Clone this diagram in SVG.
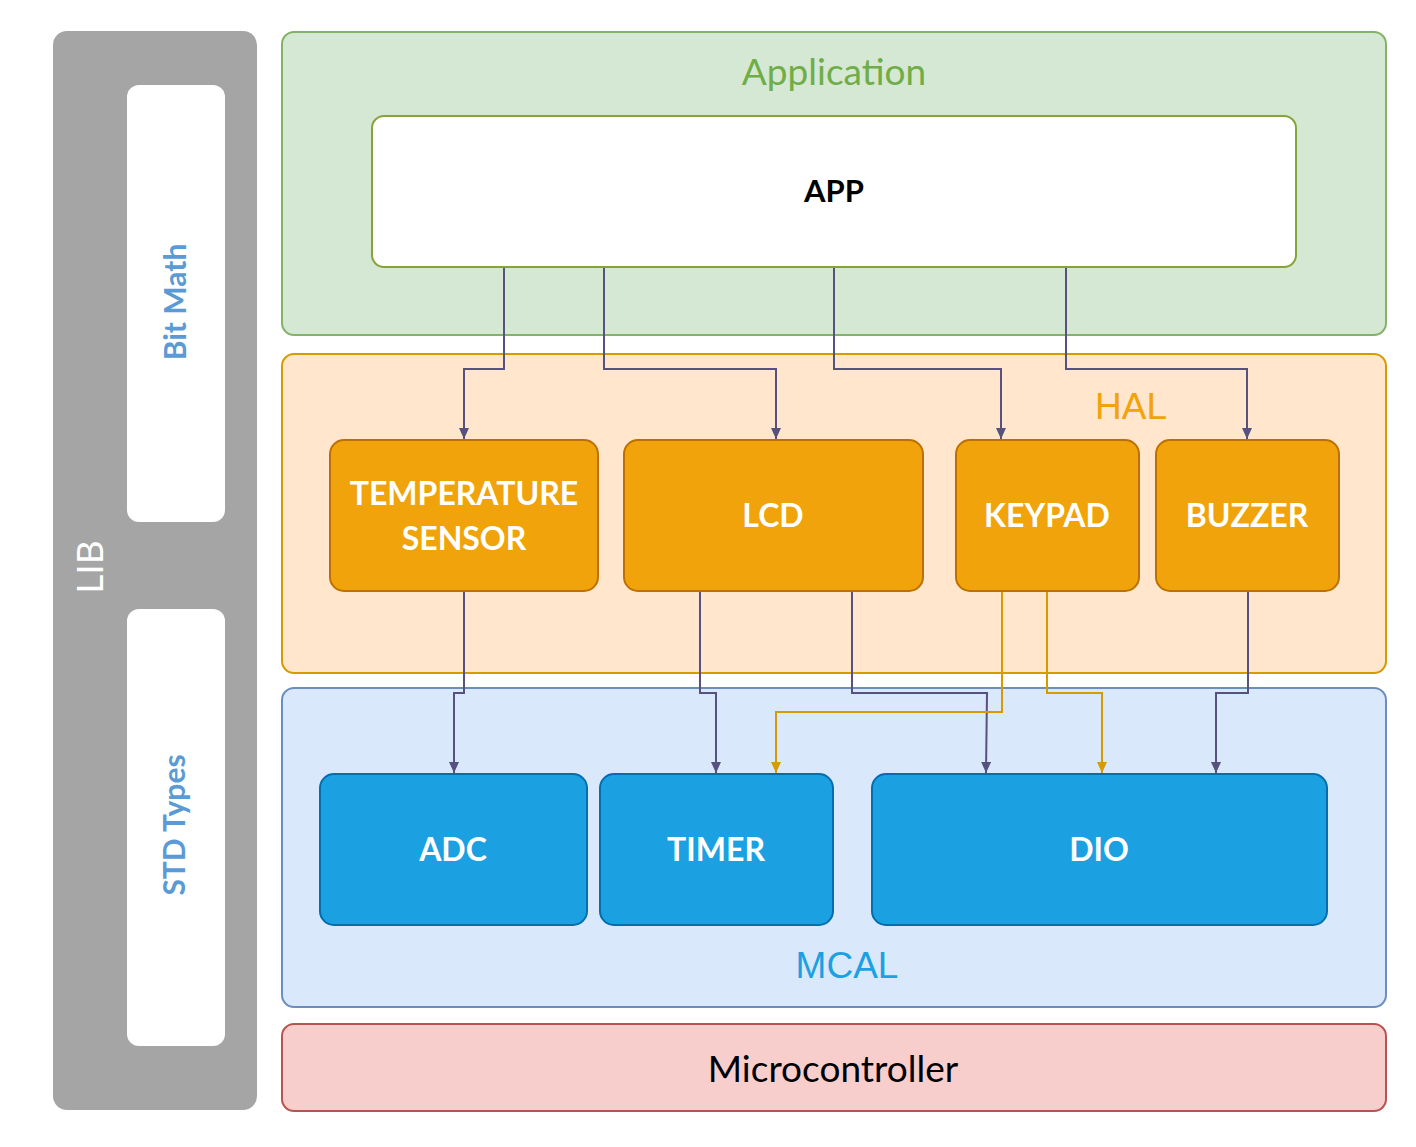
<svg xmlns="http://www.w3.org/2000/svg" width="1416" height="1147" viewBox="0 0 1416 1147">
  <style>
    .lbl { font-family: Lato, "Open Sans", "Liberation Sans", sans-serif; }
    .node-txt { font-family: Lato, "Open Sans", "Liberation Sans", sans-serif; font-weight: bold; font-size: 32px; fill: #ffffff; text-anchor: middle; }
    .hal { fill: #f0a30a; stroke: #bd7000; stroke-width: 2; }
    .mcal { fill: #1ba1e2; stroke: #006eaf; stroke-width: 2; }
    .conn { fill: none; stroke: #56517e; stroke-width: 2; }
    .conn-o { fill: none; stroke: #d79b00; stroke-width: 2; }
  </style>
  <defs>
    <marker id="ap" markerWidth="11" markerHeight="10" refX="11" refY="5" orient="auto" markerUnits="userSpaceOnUse">
      <path d="M0,0 L11,5 L0,10 z" fill="#56517e"/>
    </marker>
    <marker id="ao" markerWidth="11" markerHeight="10" refX="11" refY="5" orient="auto" markerUnits="userSpaceOnUse">
      <path d="M0,0 L11,5 L0,10 z" fill="#d79b00"/>
    </marker>
  </defs>
  <rect width="1416" height="1147" fill="#ffffff"/>

  <g id="lib">
    <rect x="53" y="31" width="204" height="1079" rx="14" fill="#a5a5a5"/>
    <text class="lbl" x="0" y="0" transform="translate(103,567) rotate(-90)" font-size="37" fill="#ffffff" text-anchor="middle">LIB</text>
  </g>
  <g id="bitmath">
    <rect x="127" y="85" width="98" height="437" rx="12" fill="#ffffff"/>
    <text class="lbl" x="0" y="0" transform="translate(186,302) rotate(-90)" font-size="30" font-weight="bold" fill="#5b9bd5" text-anchor="middle">Bit Math</text>
  </g>
  <g id="stdtypes">
    <rect x="127" y="609" width="98" height="437" rx="12" fill="#ffffff"/>
    <text class="lbl" x="0" y="0" transform="translate(185,825) rotate(-90)" font-size="30" font-weight="bold" fill="#5b9bd5" text-anchor="middle">STD Types</text>
  </g>

  <g id="application">
    <rect x="282" y="32" width="1104" height="303" rx="12" fill="#d5e8d4" stroke="#82b366" stroke-width="2"/>
    <text class="lbl" x="834" y="85" font-size="37" fill="#70ad47" text-anchor="middle">Application</text>
  </g>
  <g id="app">
    <rect x="372" y="116" width="924" height="151" rx="12" fill="#ffffff" stroke="#86a33a" stroke-width="2"/>
    <text class="lbl" x="834" y="202" font-size="31" font-weight="bold" fill="#000000" text-anchor="middle">APP</text>
  </g>

  <g id="hal">
    <rect x="282" y="354" width="1104" height="319" rx="12" fill="#ffe6cc" stroke="#d79b00" stroke-width="2"/>
    <text x="1131" y="419" font-family="'Liberation Sans', Arial, sans-serif" font-size="37" fill="#f0a30a" text-anchor="middle">HAL</text>
  </g>
  <g id="temperature-sensor">
    <rect class="hal" x="330" y="440" width="268" height="151" rx="14"/>
    <text class="node-txt" x="464" y="505">TEMPERATURE</text>
    <text class="node-txt" x="464" y="550">SENSOR</text>
  </g>
  <g id="lcd">
    <rect class="hal" x="624" y="440" width="299" height="151" rx="14"/>
    <text class="node-txt" x="773" y="527">LCD</text>
  </g>
  <g id="keypad">
    <rect class="hal" x="956" y="440" width="183" height="151" rx="14"/>
    <text class="node-txt" x="1047" y="527">KEYPAD</text>
  </g>
  <g id="buzzer">
    <rect class="hal" x="1156" y="440" width="183" height="151" rx="14"/>
    <text class="node-txt" x="1247" y="527">BUZZER</text>
  </g>

  <g id="mcal">
    <rect x="282" y="688" width="1104" height="319" rx="12" fill="#dae8fc" stroke="#6c8ebf" stroke-width="2"/>
    <text x="847" y="978" font-family="'Liberation Sans', Arial, sans-serif" font-size="37" fill="#1ba1e2" text-anchor="middle">MCAL</text>
  </g>
  <g id="adc">
    <rect class="mcal" x="320" y="774" width="267" height="151" rx="14"/>
    <text class="node-txt" x="453" y="861">ADC</text>
  </g>
  <g id="timer">
    <rect class="mcal" x="600" y="774" width="233" height="151" rx="14"/>
    <text class="node-txt" x="716" y="861">TIMER</text>
  </g>
  <g id="dio">
    <rect class="mcal" x="872" y="774" width="455" height="151" rx="14"/>
    <text class="node-txt" x="1099" y="861">DIO</text>
  </g>

  <g id="microcontroller">
    <rect x="282" y="1024" width="1104" height="87" rx="12" fill="#f8cecc" stroke="#b85450" stroke-width="2"/>
    <text class="lbl" x="833" y="1082" font-size="37" fill="#000000" text-anchor="middle">Microcontroller</text>
  </g>

  <g id="connectors">
    <path class="conn" d="M504,268 V369 H464 V439" marker-end="url(#ap)"/>
    <path class="conn" d="M604,268 V369 H776 V439" marker-end="url(#ap)"/>
    <path class="conn" d="M834,268 V369 H1001 V439" marker-end="url(#ap)"/>
    <path class="conn" d="M1066,268 V369 H1247 V439" marker-end="url(#ap)"/>
    <path class="conn" d="M464,592 V693 H454 V773" marker-end="url(#ap)"/>
    <path class="conn" d="M700,592 V693 H716 V773" marker-end="url(#ap)"/>
    <path class="conn" d="M852,592 V693 H987 L986,773" marker-end="url(#ap)"/>
    <path class="conn" d="M1248,592 V693 H1216 V773" marker-end="url(#ap)"/>
    <path class="conn-o" d="M1002,592 V712 H776 V773" marker-end="url(#ao)"/>
    <path class="conn-o" d="M1047,592 V693 H1102 V773" marker-end="url(#ao)"/>
  </g>
</svg>
